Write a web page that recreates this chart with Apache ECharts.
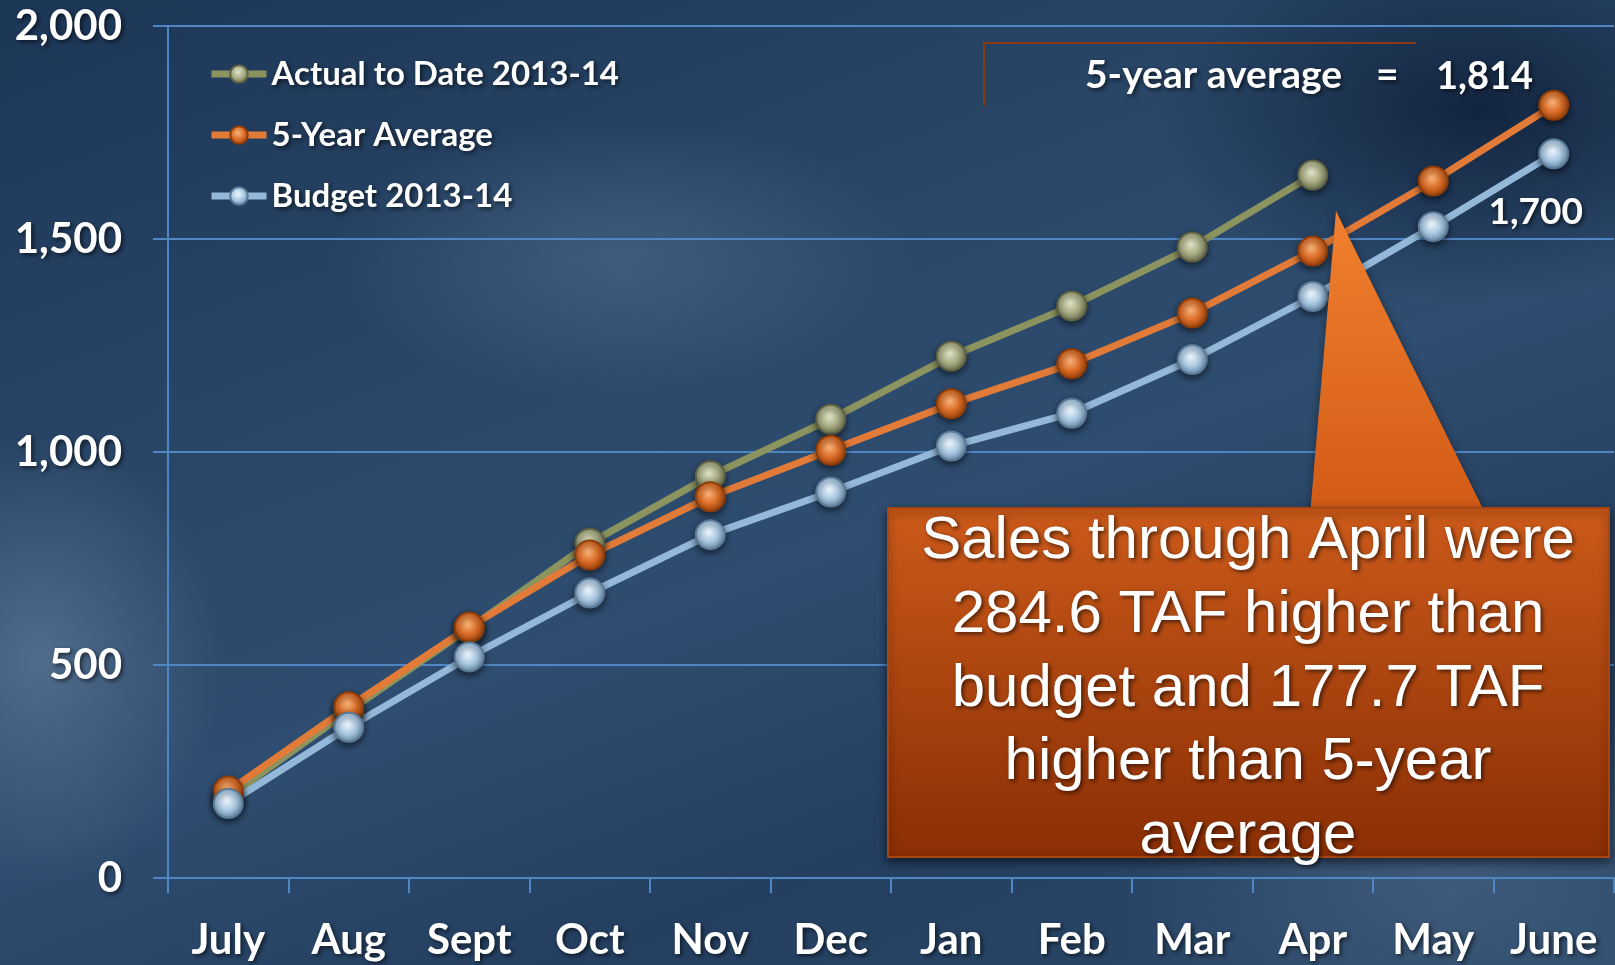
<!DOCTYPE html>
<html>
<head>
<meta charset="utf-8">
<script src="https://cdn.jsdelivr.net/npm/echarts@6/dist/echarts.min.js"></script>
<style>
    html, body { margin: 0; padding: 0; }
    #chart {
        width: 1615px;
        height: 965px;
        background:
            radial-gradient(ellipse 260px 320px at 40px 660px, rgba(110,135,165,0.55), rgba(110,135,165,0) 70%),
            radial-gradient(ellipse 420px 200px at 620px 260px, rgba(90,120,155,0.45), rgba(90,120,155,0) 70%),
            radial-gradient(ellipse 500px 260px at 1450px 880px, rgba(90,115,145,0.45), rgba(90,115,145,0) 70%),
            radial-gradient(ellipse 460px 280px at 1480px 110px, rgba(8,22,45,0.7), rgba(8,22,45,0) 70%),
            linear-gradient(160deg, #1c3656 0%, #2a4768 35%, #2f4d70 55%, #243f60 75%, #2c4a6b 100%);
    }
</style>
</head>
<body>
<div id="chart"></div>
<script>
// 类目 + 数据
const months = ['July', 'Aug', 'Sept', 'Oct', 'Nov', 'Dec', 'Jan', 'Feb', 'Mar', 'Apr', 'May', 'June'];
const actual = [190, 392, 586, 786, 944, 1077, 1225, 1343, 1481, 1650];
const fiveYearAvg = [204, 402, 589, 758, 895, 1004, 1113, 1207, 1326, 1472, 1636, 1814];
const budget = [175, 354, 519, 669, 806, 906, 1014, 1091, 1217, 1365, 1529, 1700];
const yTicks = { min: 0, max: 2000, step: 500 };

const FONT = 'Lato, "Open Sans", sans-serif';
const shadowText = {
    textShadowColor: 'rgba(0,0,0,0.6)',
    textShadowBlur: 4,
    textShadowOffsetX: 2,
    textShadowOffsetY: 2
};

function ball(light, mid, dark) {
    return {
        type: 'radial', x: 0.45, y: 0.4, r: 0.6,
        colorStops: [
            { offset: 0, color: light },
            { offset: 0.55, color: mid },
            { offset: 1, color: dark }
        ]
    };
}

function lineSeries(name, data, lineColor, markerFill, border) {
    return {
        name: name,
        type: 'line',
        data: data,
        symbol: 'circle',
        symbolSize: 29,
        lineStyle: { color: lineColor, width: 7 },
        itemStyle: {
            color: markerFill,
            borderColor: border,
            borderWidth: 2,
            shadowColor: 'rgba(0,0,0,0.55)',
            shadowBlur: 7,
            shadowOffsetY: 3
        }
    };
}

const chart = echarts.init(document.getElementById('chart'), null, { renderer: 'canvas' });

// 最后一个预算点显示数值标签
const budgetData = budget.map((v, i) => i === budget.length - 1 ? {
    value: v,
    label: {
        show: true,
        position: 'bottom',
        offset: [-18, 19],
        color: '#fff',
        fontFamily: FONT,
        fontWeight: 'bold',
        fontSize: 37,
        formatter: p => p.value.toLocaleString('en-US'),
        ...shadowText
    }
} : v);

const option = {
    backgroundColor: 'transparent',
    animation: false,
    grid: {
        left: 168,
        right: 1,
        top: 26,
        bottom: 87,
        outerBoundsMode: 'none'
    },
    legend: {
        orient: 'vertical',
        left: 208,
        top: 54,
        padding: 0,
        itemWidth: 55,
        itemHeight: 22,
        itemGap: 21,
        lineStyle: { width: 7 },
        textStyle: {
            color: '#fff',
            fontFamily: FONT,
            fontWeight: 'bold',
            fontSize: 33,
            lineHeight: 40,
            ...shadowText
        },
        data: ['Actual to Date 2013-14', '5-Year Average', 'Budget 2013-14']
    },
    xAxis: {
        type: 'category',
        data: months,
        boundaryGap: true,
        axisLine: { lineStyle: { color: '#4f86c4', width: 2 } },
        axisTick: { show: true, interval: 0, length: 15, lineStyle: { color: '#4f86c4', width: 2 } },
        axisLabel: {
            interval: 0,
            margin: 41,
            color: '#fff',
            fontFamily: FONT,
            fontWeight: 'bold',
            fontSize: 42,
            ...shadowText
        }
    },
    yAxis: {
        type: 'value',
        min: yTicks.min,
        max: yTicks.max,
        interval: yTicks.step,
        axisLine: { show: true, lineStyle: { color: '#4f86c4', width: 2 } },
        axisTick: { show: true, length: 15, lineStyle: { color: '#4f86c4', width: 2 } },
        splitLine: { lineStyle: { color: '#4f86c4', width: 2 } },
        axisLabel: {
            margin: 46,
            color: '#fff',
            fontFamily: FONT,
            fontWeight: 'bold',
            fontSize: 42,
            formatter: v => v.toLocaleString('en-US'),
            ...shadowText
        }
    },
    series: [
        lineSeries('Actual to Date 2013-14', actual, '#8b935f',
            ball('#e2e4c8', '#a8ad84', '#6d7150'), '#5e6244'),
        lineSeries('5-Year Average', fiveYearAvg, '#e27b38',
            ball('#f7b47a', '#dc6d28', '#a2460c'), '#8e3c0a'),
        lineSeries('Budget 2013-14', budgetData, '#94b8d9',
            ball('#eef6fc', '#a9c8e2', '#6a8cab'), '#5a7a98')
    ],
    graphic: [
        // 右上角 5 年均值说明
        {
            type: 'polyline',
            z: 5,
            shape: { points: [[984, 106], [984, 43], [1416, 43]] },
            style: { stroke: '#8a3a12', lineWidth: 2, fill: null }
        },
        {
            type: 'text', z: 5, left: 1085, top: 56,
            style: { text: '5-year average', fill: '#fff', font: 'bold 39px ' + FONT, ...shadowText }
        },
        {
            type: 'text', z: 5, left: 1376, top: 56,
            style: { text: '=', fill: '#fff', font: 'bold 39px ' + FONT, ...shadowText }
        },
        {
            type: 'text', z: 5, left: 1436, top: 58,
            style: { text: '1,814', fill: '#fff', font: 'bold 38px ' + FONT, ...shadowText }
        },
        // 橙色提示框
        {
            type: 'polygon',
            z: 10,
            shape: { points: [[1336, 211], [1310, 515], [1486, 515]] },
            style: {
                fill: {
                    type: 'linear', x: 0, y: 0, x2: 0, y2: 1,
                    colorStops: [{ offset: 0, color: '#f0802e' }, { offset: 1, color: '#d25a16' }]
                },
                shadowColor: 'rgba(0,0,0,0.4)',
                shadowBlur: 8
            }
        },
        {
            type: 'rect',
            z: 11,
            shape: { x: 888, y: 508, width: 721, height: 349 },
            style: {
                fill: {
                    type: 'linear', x: 0, y: 0, x2: 0, y2: 1,
                    colorStops: [{ offset: 0, color: '#cc5a1a' }, { offset: 1, color: '#8a2e04' }]
                },
                stroke: '#a84612',
                lineWidth: 2,
                shadowColor: 'rgba(0,0,0,0.55)',
                shadowBlur: 10,
                shadowOffsetY: 4
            }
        },
        {
            type: 'text',
            z: 12,
            x: 1248,
            y: 689,
            style: {
                text: 'Sales through April were\n284.6 TAF higher than\nbudget and 177.7 TAF\nhigher than 5-year\naverage',
                fill: '#fff',
                font: '60px "Liberation Sans", Arial, sans-serif',
                lineHeight: 73.6,
                align: 'center',
                verticalAlign: 'middle',
                ...shadowText
            }
        }
    ]
};

chart.setOption(option);
</script>
</body>
</html>
